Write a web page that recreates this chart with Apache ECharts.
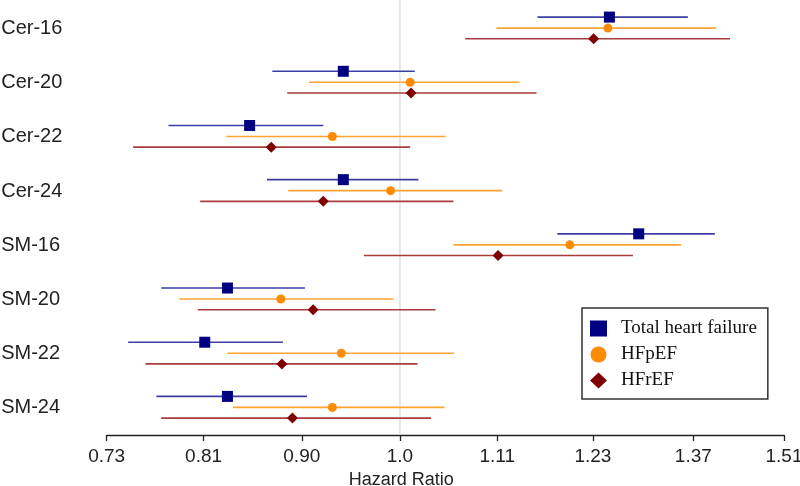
<!DOCTYPE html>
<html>
<head>
<meta charset="utf-8">
<script src="https://cdn.jsdelivr.net/npm/echarts@6/dist/echarts.min.js"></script>
<style>html,body{margin:0;padding:0;background:#fff}#c{width:800px;height:486px}</style>
</head>
<body>
<div id="c"></div>
<script>
const categories = ['Cer-16','Cer-20','Cer-22','Cer-24','SM-16','SM-20','SM-22','SM-24'];
const tickValues = [0.73, 0.81, 0.90, 1.0, 1.11, 1.23, 1.37, 1.51];
const tickLabels = ['0.73','0.81','0.90','1.0','1.11','1.23','1.37','1.51'];
const referenceValue = [1.0];

const totalEst = [1.252, 0.941, 0.851, 0.941, 1.292, 0.831, 0.811, 0.831];
const totalLo  = [1.159, 0.872, 0.780, 0.867, 1.184, 0.774, 0.747, 0.770];
const totalHi  = [1.362, 1.016, 0.921, 1.020, 1.402, 0.903, 0.882, 0.905];

const pEst = [1.250, 1.011, 0.930, 0.990, 1.200, 0.880, 0.939, 0.930];
const pLo  = [1.109, 0.907, 0.830, 0.887, 1.059, 0.789, 0.831, 0.836];
const pHi  = [1.404, 1.137, 1.050, 1.116, 1.352, 0.993, 1.060, 1.049];

const rEst = [1.231, 1.012, 0.871, 0.921, 1.111, 0.911, 0.881, 0.891];
const rLo  = [1.0725, 0.886, 0.751, 0.807, 0.962, 0.805, 0.761, 0.774];
const rHi  = [1.425, 1.158, 1.011, 1.059, 1.284, 1.039, 1.019, 1.034];

const seriesNames = ['Total heart failure', 'HFpEF', 'HFrEF'];

function build(lo, hi, est) {
  return categories.map((c, i) => [Math.log(lo[i]), Math.log(hi[i]), Math.log(est[i]), i]);
}

function makeRender(offset, shape, markerColor, lineColor) {
  return function (params, api) {
    const yi = api.value(3);
    const a = api.coord([api.value(0), yi]);
    const b = api.coord([api.value(1), yi]);
    const m = api.coord([api.value(2), yi]);
    const y = a[1] + offset;
    const children = [{
      type: 'line',
      shape: { x1: a[0], y1: y, x2: b[0], y2: y },
      style: { stroke: lineColor, lineWidth: 1.6 }
    }];
    if (shape === 'square') {
      children.push({ type: 'rect', shape: { x: m[0] - 5.5, y: y - 5.5, width: 11, height: 11 }, style: { fill: markerColor } });
    } else if (shape === 'circle') {
      children.push({ type: 'circle', shape: { cx: m[0], cy: y, r: 4.5 }, style: { fill: markerColor } });
    } else {
      const s = 5.5;
      children.push({ type: 'polygon', shape: { points: [[m[0], y - s], [m[0] + s, y], [m[0], y + s], [m[0] - s, y]] }, style: { fill: markerColor } });
    }
    return { type: 'group', children: children };
  };
}

const chart = echarts.init(document.getElementById('c'), null, { renderer: 'canvas' });
chart.setOption({
  animation: false,
  backgroundColor: '#fff',
  grid: { left: 106.7, right: 16, top: 1.5, bottom: 51, containLabel: false, outerBoundsMode: 'none' },
  xAxis: {
    type: 'value',
    min: Math.log(0.73),
    max: Math.log(1.51),
    axisLine: { show: true, lineStyle: { color: '#222', width: 1.3 } },
    axisTick: { show: true, length: 6, lineStyle: { color: '#222', width: 1.3 }, customValues: tickValues.map(Math.log) },
    splitLine: { show: false },
    axisLabel: {
      customValues: tickValues.map(Math.log),
      margin: 12,
      fontFamily: 'Liberation Sans, Arial, sans-serif',
      fontSize: 19,
      color: '#222',
      formatter: function (v) {
        let best = 0, bd = Infinity;
        tickValues.forEach((t, i) => { const d = Math.abs(Math.log(t) - v); if (d < bd) { bd = d; best = i; } });
        return tickLabels[best];
      }
    },
    name: 'Hazard Ratio',
    nameLocation: 'middle',
    nameGap: 32,
    nameTextStyle: { fontFamily: 'Liberation Sans, Arial, sans-serif', fontSize: 18, color: '#222', padding: [0, 88, 0, 0] }
  },
  yAxis: {
    type: 'category',
    data: categories,
    inverse: true,
    axisLine: { show: false },
    axisTick: { show: false },
    splitLine: { show: false },
    axisLabel: {
      align: 'left',
      margin: 105.5,
      padding: [4, 0, 0, 0],
      fontFamily: 'Liberation Sans, Arial, sans-serif',
      fontSize: 20,
      color: '#222'
    }
  },
  legend: {
    orient: 'vertical',
    left: 582,
    top: 308,
    backgroundColor: '#fff',
    borderColor: '#333',
    borderWidth: 1.5,
    borderRadius: 0,
    padding: [11, 11, 9, 8],
    itemWidth: 17,
    itemHeight: 16,
    itemGap: 7,
    textStyle: { fontFamily: 'Liberation Serif, Times New Roman, serif', fontSize: 19, lineHeight: 19, color: '#111', padding: [0, 0, 0, 9] },
    data: [
      { name: seriesNames[0], icon: 'rect' },
      { name: seriesNames[1], icon: 'circle' },
      { name: seriesNames[2], icon: 'diamond' }
    ]
  },
  series: [
    {
      name: 'ref',
      type: 'custom',
      silent: true,
      encode: { x: 0, y: 1 },
      data: referenceValue.map(v => [Math.log(v), 0]),
      renderItem: function (params, api) {
        const p = api.coord([api.value(0), 0]);
        const cs = params.coordSys;
        return {
          type: 'line',
          shape: { x1: p[0], y1: cs.y - 2, x2: p[0], y2: cs.y + cs.height },
          style: { stroke: '#cfcfcf', lineWidth: 1 }
        };
      },
      z: 1
    },
    {
      name: seriesNames[0],
      type: 'custom',
      itemStyle: { color: '#000080' },
      encode: { x: [0, 1, 2], y: 3 },
      renderItem: makeRender(-11.5, 'square', '#000080', '#3d3da8'),
      data: build(totalLo, totalHi, totalEst),
      z: 3
    },
    {
      name: seriesNames[1],
      type: 'custom',
      itemStyle: { color: '#ff8c00' },
      encode: { x: [0, 1, 2], y: 3 },
      renderItem: makeRender(-0.5, 'circle', '#ff8c00', '#ffa433'),
      data: build(pLo, pHi, pEst),
      z: 3
    },
    {
      name: seriesNames[2],
      type: 'custom',
      itemStyle: { color: '#800000' },
      encode: { x: [0, 1, 2], y: 3 },
      renderItem: makeRender(10.2, 'diamond', '#800000', '#a83c3c'),
      data: build(rLo, rHi, rEst),
      z: 3
    }
  ]
});
</script>
</body>
</html>
